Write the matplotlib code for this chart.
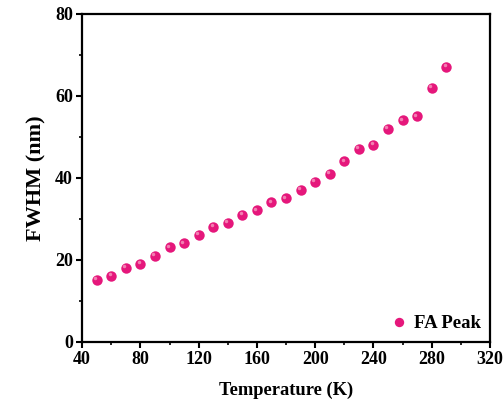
import matplotlib
matplotlib.use('Agg')
import matplotlib.pyplot as plt
import matplotlib.transforms as mtransforms
from matplotlib.ticker import MultipleLocator

# Datos
temperatura = [50, 60, 70, 80, 90, 100, 110, 120, 130, 140, 150, 160, 170,
               180, 190, 200, 210, 220, 230, 240, 250, 260, 270, 280, 290]
fwhm = [15, 16, 18, 19, 21, 23, 24, 26, 28, 29, 31, 32, 34,
        35, 37, 39, 41, 44, 47, 48, 52, 54, 55, 62, 67]
etiqueta = 'FA Peak'

plt.rcParams['font.family'] = ['Liberation Serif', 'DejaVu Serif']
plt.rcParams['font.weight'] = 'bold'

fig = plt.figure(figsize=(5.04, 4.09), dpi=100)
ax = fig.add_axes([0.163, 0.165, 0.809, 0.801])

ax.plot(temperatura, fwhm, 'o', color='#e5177b', markersize=7.5,
        markeredgewidth=0, label=etiqueta)
# brillo para simular la esfera
brillo = mtransforms.offset_copy(ax.transData, fig=fig, x=-1.2, y=1.2,
                                 units='points')
ax.plot(temperatura, fwhm, 'o', color='#f58ab8', markersize=2.5,
        markeredgewidth=0, transform=brillo, alpha=0.9)

ax.set_xlim(40, 320)
ax.set_ylim(0, 80)
ax.xaxis.set_major_locator(MultipleLocator(40))
ax.xaxis.set_minor_locator(MultipleLocator(20))
ax.yaxis.set_major_locator(MultipleLocator(20))
ax.yaxis.set_minor_locator(MultipleLocator(10))

for s in ax.spines.values():
    s.set_linewidth(1.6)
ax.tick_params(which='major', direction='out', length=4.5, width=1.5,
               labelsize=13, pad=2)
ax.tick_params(which='minor', direction='out', length=2.5, width=1.2)

ax.set_xlabel('Temperature (K)', fontsize=13.3, fontweight='bold', labelpad=10)
ax.set_ylabel('FWHM (nm)', fontsize=16, fontweight='bold', labelpad=6)

ax.legend(loc='lower right', frameon=False, fontsize=13.5,
          handletextpad=0.2, handlelength=1.2, markerscale=0.9,
          borderaxespad=0.1)

fig.savefig('out.png', dpi=100)
